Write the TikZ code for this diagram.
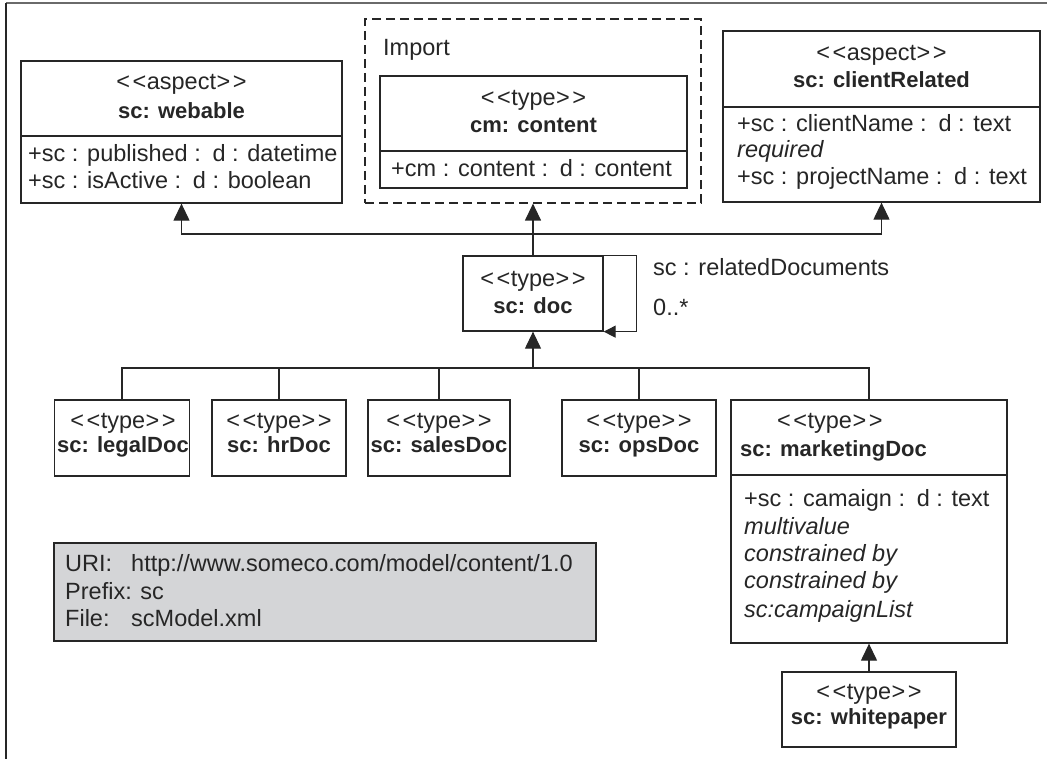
\documentclass[tikz,border=0pt]{standalone}
\usepackage{fontspec}
\setmainfont{Liberation Sans}
\usetikzlibrary{arrows.meta}
\definecolor{ln}{HTML}{262626}
\definecolor{infofill}{HTML}{D4D5D7}
\definecolor{frametop}{HTML}{6A6A6A}
\newcommand{\stereo}[1]{\textless\kern2.5pt\textless\kern0.5pt#1\kern0.5pt\textgreater\kern2.5pt\textgreater}
\tikzset{
  cls/.style={draw=ln, line width=1.3pt, inner sep=0pt},
  txt/.style={inner sep=0pt, text=ln, text height=16pt, text depth=4pt, font=\fontsize{23.5}{27}\selectfont},
  btxt/.style={txt, font=\fontsize{22}{26}\selectfont\bfseries},
  itxt/.style={txt, font=\fontsize{23.5}{27}\selectfont\itshape},
  divider/.style={draw=ln, line width=1.3pt},
  inh/.style={draw=ln, line width=1.2pt, -{Triangle[width=16pt,length=17pt]}},
  selfref/.style={draw=ln, line width=1.2pt, -{Triangle[width=12pt,length=12pt]}},
  plain/.style={draw=ln, line width=1.2pt}
}
\begin{document}
\begin{tikzpicture}[x=1pt,y=-1pt]
\useasboundingbox (0,0) rectangle (1047,759);
% frame
\coordinate (frTL) at (6,3);
\coordinate (frTR) at (1047,3);
\coordinate (frBL) at (6,759);
\draw[frametop, line width=2.5pt] (frTL) -- (frTR);
\draw[ln, line width=2pt] (frTL) -- (frBL);

% webable
\node[cls, minimum width=321pt, minimum height=142pt] (webable) at (181.5,132) {};
\draw[divider] (webable.west |- 0,136) -- (webable.east |- 0,136);
\node[txt] (webS) at (181.5,84) {\stereo{aspect}};
\node[btxt] (webN) at (181.5,113) {sc: webable};
\node[txt, anchor=west] (webA1) at (28,156) {+sc : published :\enspace d : datetime};
\node[txt, anchor=west] (webA2) at (28,183) {+sc : isActive :\enspace d : boolean};

% import
\node[draw=ln, line width=1.2pt, dashed, dash pattern=on 9pt off 5pt, minimum width=336pt, minimum height=184pt, inner sep=0pt] (import) at (533,111) {};
\node[txt, anchor=west] (impL) at (383,50) {Import};
\node[cls, minimum width=307pt, minimum height=112pt] (content) at (533.5,132) {};
\draw[divider] (content.west |- 0,151) -- (content.east |- 0,151);
\node[txt] (conS) at (533.5,100) {\stereo{type}};
\node[btxt] (conN) at (533.5,127) {cm: content};
\node[txt, anchor=west] (conA1) at (391,171) {+cm : content :\enspace d : content};

% clientRelated
\node[cls, minimum width=317pt, minimum height=171pt] (client) at (881.5,116.5) {};
\draw[divider] (client.west |- 0,107) -- (client.east |- 0,107);
\node[txt] (cliS) at (881.5,55) {\stereo{aspect}};
\node[btxt] (cliN) at (881.5,82) {sc: clientRelated};
\node[txt, anchor=west] (cliA1) at (737,126) {+sc : clientName :\enspace d : text};
\node[itxt, anchor=west] (cliA2) at (737,152) {required};
\node[txt, anchor=west] (cliA3) at (737,179) {+sc : projectName :\enspace d : text};

% doc
\node[cls, minimum width=140pt, minimum height=75pt] (doc) at (533,293.5) {};
\node[txt] (docS) at (533,281) {\stereo{type}};
\node[btxt] (docN) at (533,308) {sc: doc};
\node[txt, anchor=west] (relL) at (653,270) {sc : relatedDocuments};
\node[txt, anchor=west] (mulL) at (653,310) {0..*};
\draw[selfref] (doc.north east) -- ++(33,0) |- (doc.south east);

% subtypes
\node[cls, minimum width=135pt, minimum height=76pt] (legal) at (122,438) {};
\node[txt] (legS) at (123,422) {\stereo{type}};
\node[btxt] (legN) at (123,446) {sc: legalDoc};
\node[cls, minimum width=134pt, minimum height=76pt] (hr) at (279,438) {};
\node[txt] (hrS) at (279,422) {\stereo{type}};
\node[btxt] (hrN) at (279,446) {sc: hrDoc};
\node[cls, minimum width=142pt, minimum height=76pt] (sales) at (439,438) {};
\node[txt] (salS) at (439,422) {\stereo{type}};
\node[btxt] (salN) at (439,446) {sc: salesDoc};
\node[cls, minimum width=154pt, minimum height=76pt] (ops) at (639,438) {};
\node[txt] (opsS) at (639,422) {\stereo{type}};
\node[btxt] (opsN) at (639,446) {sc: opsDoc};

% marketingDoc
\node[cls, minimum width=276pt, minimum height=243pt] (mkt) at (869,521.5) {};
\draw[divider] (mkt.west |- 0,475) -- (mkt.east |- 0,475);
\node[txt, anchor=west] (mktS) at (777,422) {\stereo{type}};
\node[btxt, anchor=west] (mktN) at (740,450) {sc: marketingDoc};
\node[txt, anchor=west] (mktA1) at (744,500) {+sc : camaign :\enspace d : text};
\node[itxt, anchor=west] (mktA2) at (744,528) {multivalue};
\node[itxt, anchor=west] (mktA3) at (744,555) {constrained by};
\node[itxt, anchor=west] (mktA4) at (744,582) {constrained by};
\node[itxt, anchor=west] (mktA5) at (744,611) {sc:campaignList};

% whitepaper
\node[cls, minimum width=174pt, minimum height=75pt] (white) at (869,709.5) {};
\node[txt] (whiS) at (869,693) {\stereo{type}};
\node[btxt] (whiN) at (869,718) {sc: whitepaper};

% info
\node[draw=ln, line width=1.2pt, fill=infofill, minimum width=542pt, minimum height=98pt, inner sep=0pt] (info) at (325,592) {};
\node[txt, anchor=west] (infU) at (65,565) {URI:};
\node[txt, anchor=west] (infUv) at (131,565) {http://www.someco.com/model/content/1.0};
\node[txt, anchor=west] (infP) at (65,593) {Prefix: sc};
\node[txt, anchor=west] (infF) at (65,620) {File:};
\node[txt, anchor=west] (infFv) at (131,620) {scModel.xml};

% connectors
\coordinate (busT) at (533,234);
\coordinate (busB) at (533,368);
\draw[inh] (doc.north) -- (import.south);
\draw[inh] (busT) -| (webable.south);
\draw[inh] (busT) -| (client.south);
\draw[plain] (legal.north) |- (busB);
\draw[plain] (hr.north) |- (busB);
\draw[plain] (sales.north) |- (busB);
\draw[plain] (ops.north) |- (busB);
\draw[plain] (mkt.north) |- (busB);
\draw[inh] (busB) -- (doc.south);
\draw[inh] (white.north) -- (mkt.south);
\end{tikzpicture}
\end{document}
